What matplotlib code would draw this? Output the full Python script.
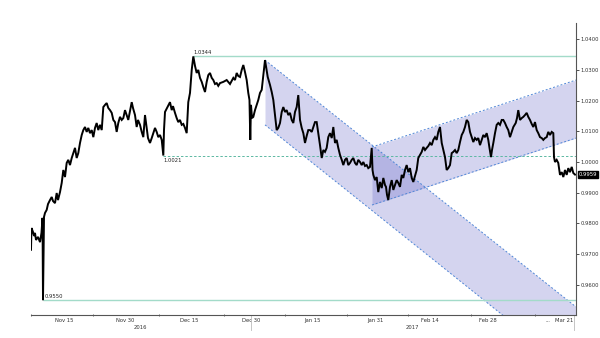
import numpy as np
import matplotlib
matplotlib.use("Agg")
import matplotlib.pyplot as plt
import matplotlib.transforms as mtransforms

# x in days after the first bar (Nov 8 2016), y = USD/CHF
t = [0.00, 0.12, 0.50, 0.75, 1.00, 1.25, 1.75, 2.25, 2.62, 2.88, 3.00, 3.25, 3.50, 3.92,
     4.25, 4.75, 5.18, 5.50, 6.00, 6.42, 6.75, 7.25, 7.68, 8.08, 8.50, 8.92, 9.32, 9.75,
     10.18, 10.58, 11.00, 11.42, 11.82, 12.25, 12.68, 13.08, 13.50, 13.92, 14.32, 14.75,
     15.18, 15.58, 16.00, 16.42, 16.82, 17.25, 17.68, 18.08, 18.50, 18.92, 19.32, 19.75,
     20.18, 20.58, 21.00, 21.42, 21.82, 22.25, 22.68, 23.08, 23.50,
     24.32, 25.18, 25.50, 26.00, 26.42, 26.75, 27.25, 27.68, 28.08, 28.50, 28.92, 29.25,
     29.75, 30.18, 30.58, 31.00, 31.42, 31.82, 32.25, 32.68, 32.88, 33.08, 33.25, 33.50,
     34.00, 34.75, 35.18, 35.50, 36.00, 36.42, 36.82, 37.25, 37.68, 38.08, 38.50, 38.92,
     39.12, 39.32, 39.75, 40.18, 40.58, 41.00, 41.42, 41.82, 42.25, 42.68, 43.08, 43.50,
     43.92, 44.32, 44.75, 45.18, 45.58, 46.00, 46.42, 46.82, 47.25,
     48.08, 48.92, 49.75, 50.58, 51.00, 51.42, 51.82, 52.25, 52.68, 53.08, 53.50, 53.92,
     54.32, 54.62, 54.82, 55.00, 55.25, 55.58, 56.00, 56.42, 56.82, 57.25, 57.68, 58.08,
     58.50, 58.88, 59.18, 59.75, 60.18, 60.58, 61.00, 61.42, 61.82, 62.25, 62.68, 63.08,
     63.50, 63.92, 64.32, 64.75, 65.18, 65.58, 66.00, 66.42, 66.82, 67.25, 67.68, 68.08,
     68.50, 68.92, 69.32, 69.75, 70.18, 70.58, 71.00,
     71.42, 71.82, 72.25, 72.68, 73.08, 73.50, 73.92, 74.32, 74.75, 75.18, 75.58, 76.00,
     76.42, 76.82, 77.25, 77.68, 78.08, 78.50, 78.92, 79.32, 79.75, 80.18, 80.58, 81.00,
     81.42, 81.82, 82.25, 82.68, 83.08, 83.50, 83.92, 84.32, 84.75, 85.18, 85.38, 85.58,
     86.00, 86.42, 86.82, 87.25, 87.68, 88.08, 88.50, 88.75, 89.00, 89.32, 89.75, 90.18,
     90.58, 91.00, 91.42, 91.82, 92.25, 92.68, 93.08, 93.50, 93.92, 94.32, 94.75, 95.18,
     95.58, 96.00, 96.42, 96.82,
     97.25, 97.68, 98.08, 98.50, 98.92, 99.32, 99.75, 100.18, 100.58, 101.00, 101.42,
     101.82, 102.25, 102.68, 103.08, 103.50, 103.92, 104.32, 104.75, 105.18, 105.58,
     106.00, 106.42, 106.82, 107.25, 107.68, 108.08, 108.50, 108.92, 109.32, 109.75,
     110.18, 110.58, 111.00, 111.42, 111.82, 112.25, 112.68, 113.08, 113.50, 113.92,
     114.32, 114.62, 115.00, 115.25, 115.58, 116.00, 116.42, 116.82, 117.25, 117.68, 118.08,
     118.50, 118.92, 119.32, 119.75, 120.18, 120.58, 121.18, 121.50, 121.82, 122.25,
     122.68, 123.08, 123.50, 123.92, 124.32, 124.75, 125.18, 125.58, 126.00, 126.42,
     126.82, 127.25, 127.68, 128.08, 128.50, 128.92, 129.32, 129.75, 130.18, 130.58,
     130.75, 131.00, 131.42, 131.82, 132.25, 132.68, 133.08, 133.50, 133.92, 134.32,
     134.75, 135.18, 135.58, 136.00]
usdchf = [0.9714, 0.9785, 0.9772, 0.9759, 0.9769, 0.9746, 0.9756, 0.9739, 0.9769, 0.9818, 0.9550, 0.9821, 0.9834, 0.9844,
          0.9863, 0.9876, 0.9886, 0.9873, 0.9866, 0.9899, 0.9876, 0.9902, 0.9932, 0.9974, 0.9951, 0.9997, 1.0007, 0.9990,
          1.0013, 1.0029, 1.0046, 1.0013, 1.0029, 1.0062, 1.0088, 1.0104, 1.0114, 1.0098, 1.0111, 1.0094,
          1.0104, 1.0081, 1.0111, 1.0127, 1.0104, 1.0121, 1.0104, 1.0179, 1.0186, 1.0192, 1.0176, 1.0169,
          1.0160, 1.0137, 1.0130, 1.0098, 1.0127, 1.0147, 1.0137, 1.0143, 1.0169,
          1.0137, 1.0195, 1.0176, 1.0153, 1.0114, 1.0137, 1.0121, 1.0098, 1.0081, 1.0153, 1.0111, 1.0078,
          1.0062, 1.0078, 1.0094, 1.0111, 1.0098, 1.0081, 1.0088, 1.0072, 1.0046, 1.0021, 1.0104, 1.0163,
          1.0176, 1.0195, 1.0169, 1.0182, 1.0160, 1.0143, 1.0130, 1.0137, 1.0121, 1.0124, 1.0111, 1.0094,
          1.0143, 1.0195, 1.0225, 1.0300, 1.0344, 1.0313, 1.0290, 1.0300, 1.0274, 1.0261, 1.0244, 1.0228,
          1.0261, 1.0283, 1.0290, 1.0274, 1.0267, 1.0254, 1.0257, 1.0248, 1.0257,
          1.0261, 1.0267, 1.0254, 1.0274, 1.0267, 1.0290, 1.0280, 1.0277, 1.0300, 1.0316, 1.0293, 1.0267,
          1.0225, 1.0202, 1.0072, 1.0186, 1.0143, 1.0147, 1.0169, 1.0186, 1.0202, 1.0225, 1.0235, 1.0283,
          1.0332, 1.0300, 1.0277, 1.0251, 1.0228, 1.0202, 1.0153, 1.0104, 1.0111, 1.0127, 1.0163, 1.0179,
          1.0163, 1.0169, 1.0153, 1.0160, 1.0137, 1.0127, 1.0163, 1.0179, 1.0218, 1.0137, 1.0111, 1.0094,
          1.0062, 1.0085, 1.0104, 1.0104, 1.0098, 1.0114, 1.0130,
          1.0130, 1.0094, 1.0055, 1.0013, 1.0039, 1.0033, 1.0046, 1.0081, 1.0094, 1.0078, 1.0114, 1.0062,
          1.0072, 1.0046, 1.0023, 1.0007, 0.9990, 1.0007, 1.0013, 0.9990, 0.9997, 1.0007, 1.0013, 0.9997,
          0.9990, 1.0007, 1.0000, 0.9990, 1.0000, 0.9987, 0.9990, 0.9980, 0.9984, 1.0046, 0.9974, 0.9958,
          0.9941, 0.9951, 0.9902, 0.9935, 0.9915, 0.9948, 0.9925, 0.9919, 0.9893, 0.9876, 0.9919, 0.9941,
          0.9909, 0.9925, 0.9941, 0.9932, 0.9919, 0.9958, 0.9948, 0.9974, 0.9990, 0.9967, 0.9980, 0.9948,
          0.9935, 0.9954, 0.9974, 1.0013,
          1.0023, 1.0033, 1.0049, 1.0039, 1.0046, 1.0052, 1.0062, 1.0055, 1.0072, 1.0081, 1.0072,
          1.0098, 1.0114, 1.0062, 1.0039, 1.0016, 0.9974, 0.9980, 0.9990, 1.0029, 1.0033,
          1.0039, 1.0029, 1.0039, 1.0065, 1.0088, 1.0098, 1.0114, 1.0137, 1.0130, 1.0098,
          1.0081, 1.0065, 1.0078, 1.0072, 1.0078, 1.0055, 1.0072, 1.0088, 1.0081, 1.0094,
          1.0072, 1.0046, 1.0016, 1.0039, 1.0062, 1.0094, 1.0121, 1.0127, 1.0121, 1.0137, 1.0137,
          1.0127, 1.0114, 1.0104, 1.0081, 1.0098, 1.0114, 1.0127, 1.0143, 1.0169, 1.0137,
          1.0143, 1.0147, 1.0153, 1.0160, 1.0147, 1.0137, 1.0124, 1.0114, 1.0130, 1.0104,
          1.0094, 1.0081, 1.0078, 1.0072, 1.0078, 1.0081, 1.0098, 1.0088, 1.0098, 1.0094,
          1.0016, 1.0000, 1.0007, 0.9997, 0.9958, 0.9967, 0.9951, 0.9974, 0.9958, 0.9980,
          0.9967, 0.9984, 0.9964, 0.9959]

# trend channels: [start, end] x and the two bounding lines
down_x = [58.5, 136.25]
down_top = [1.0332, 0.9528]
down_bot = [1.0121, 0.9310]
up_x = [85.25, 136.25]
up_top = [1.0049, 1.0267]
up_bot = [0.9860, 1.0078]

tick_pos = [8.25, 23.5, 39.5, 55.0, 70.5, 86.0, 99.75, 114.25, 129.25, 133.25]
tick_lbl = ["Nov 15", "Nov 30", "Dec 15", "Dec 30", "Jan 15", "Jan 31", "Feb 14",
            "Feb 28", "...", "Mar 21"]
minor_pos = [0, 15.5, 32, 48.25, 63.5, 79, 94.25, 110, 126]
year_pos = [27.25, 95.25]
year_lbl = ["2016", "2017"]
year_breaks = [54.9, 135.75]

t = np.array(t)
usdchf = np.array(usdchf)

fig = plt.figure(figsize=(6, 3.38), dpi=100)
ax = fig.add_axes([31/600, 1-315/338, 545/600, 292/338])
ax.set_xlim(0, 136.25)
ax.set_ylim(0.95016, 1.04528)

fill_c = (0.36, 0.36, 0.76)
edge_c = "#4f86d6"
for xs, top, bot in [(down_x, down_top, down_bot), (up_x, up_top, up_bot)]:
    ax.fill_between(xs, bot, top, color=fill_c, alpha=0.26, lw=0, zorder=1)
    ax.plot(xs, top, color=edge_c, lw=0.7, ls=(0, (2, 2)), zorder=2)
    ax.plot(xs, bot, color=edge_c, lw=0.7, ls=(0, (2, 2)), zorder=2)

# horizontal levels
i_hi = int(np.argmax(usdchf))
i_lo = int(np.argmin(usdchf))
i_mid = 82
xmax = ax.get_xlim()[1]
ax.hlines(usdchf[i_hi], t[i_hi], xmax, color="#a3dbc9", lw=1.0, zorder=2)
ax.hlines(usdchf[i_lo], t[i_lo], xmax, color="#a3dbc9", lw=1.0, zorder=2)
ax.hlines(usdchf[i_mid], t[i_mid], xmax, color="#5cb8a2", lw=0.7, ls=(0, (2.5, 2)), zorder=2)

lbl_kw = dict(fontsize=3.8, color="#222222", textcoords="offset points")
ax.annotate("%.4f" % usdchf[i_hi], (t[i_hi], usdchf[i_hi]), xytext=(0, 1), va="bottom", **lbl_kw)
ax.annotate("%.4f" % usdchf[i_lo], (t[i_lo], usdchf[i_lo]), xytext=(1, 1), va="bottom", **lbl_kw)
ax.annotate("%.4f" % usdchf[i_mid], (t[i_mid], usdchf[i_mid]), xytext=(0, -1.5), va="top", **lbl_kw)

ax.plot(t, usdchf, color="black", lw=1.4, zorder=3, solid_joinstyle="miter")

# axes styling
for s in ["top", "left"]:
    ax.spines[s].set_visible(False)
ax.spines["right"].set_color("#555555")
ax.spines["bottom"].set_color("#555555")
ax.spines["right"].set_linewidth(0.8)
ax.spines["bottom"].set_linewidth(0.8)

ax.yaxis.tick_right()
ax.set_yticks(np.arange(0.96, 1.0401, 0.01))
ax.set_yticklabels(["%.4f" % v for v in np.arange(0.96, 1.0401, 0.01)])
ax.tick_params(axis="y", length=2, width=0.6, labelsize=3.8, pad=1.5, colors="#333333")

ax.set_xticks(tick_pos)
ax.set_xticklabels(tick_lbl)
ax.set_xticks(minor_pos, minor=True)
ax.tick_params(axis="x", which="major", length=0, labelsize=3.8, pad=2, colors="#333333")
ax.tick_params(axis="x", which="minor", length=1.5, width=0.6, direction="inout", colors="#555555")

trans = mtransforms.blended_transform_factory(ax.transData, ax.transAxes)
for p, l in zip(year_pos, year_lbl):
    ax.text(p, -0.035, l, transform=trans, fontsize=3.8, color="#333333",
            ha="center", va="top", clip_on=False)
for p in year_breaks:
    ax.plot([p, p], [0, -0.05], transform=trans, color="#bbbbbb", lw=0.6, clip_on=False)

# last price tag
last = usdchf[-1]
ax.annotate("%.4f" % last, (1.0, last), xycoords=("axes fraction", "data"),
            xytext=(2, 0), textcoords="offset points", va="center", ha="left",
            fontsize=3.8, color="white",
            bbox=dict(boxstyle="square,pad=0.15", fc="black", ec="black"))

fig.savefig("out.png", dpi=100)
